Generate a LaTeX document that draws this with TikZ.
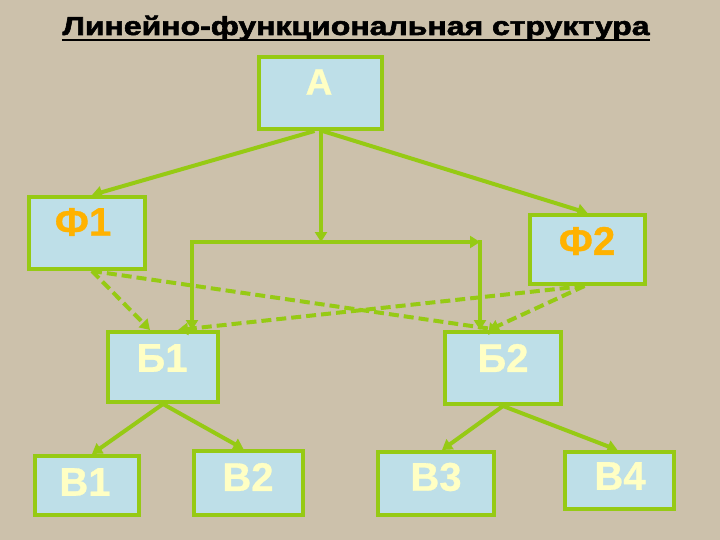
\documentclass[tikz,border=0pt]{standalone}
\usepackage{fontspec}
\setmainfont{Liberation Sans}
\newfontfamily\heavyfont[UprightFont={* Bold}, FakeBold=2]{Liberation Sans}
\newfontfamily\lblfont[UprightFont={* Bold}, FakeBold=0.8]{Liberation Sans}
\usetikzlibrary{arrows.meta}
\definecolor{bgc}{RGB}{204,193,171}
\definecolor{lgreen}{RGB}{150,202,20}
\definecolor{lblue}{RGB}{190,223,232}
\definecolor{lyel}{RGB}{255,255,196}
\definecolor{orng}{RGB}{255,178,0}
\begin{document}
\begin{tikzpicture}[x=1pt,y=-1pt,
  box/.style={draw=lgreen, fill=lblue, line width=4pt, inner sep=0pt, rectangle},
  lbl/.style={font=\lblfont\fontsize{40}{40}\selectfont, text=lyel, inner sep=0pt},
  flbl/.style={lbl, text=orng},
  conn/.style={draw=lgreen, line width=4pt, -{Triangle[length=10pt,width=12pt]}},
  dconn/.style={conn, dash pattern=on 10pt off 5pt}]
\useasboundingbox (0,0) rectangle (720,540);
\fill[bgc] (0,0) rectangle (720,540);

\node[anchor=base, inner sep=0pt] (title) at (356,35)
  {\scalebox{1.23}[1]{\heavyfont\fontsize{26}{26}\selectfont Линейно-функциональная структура}};
\draw[line width=2.5pt] ([yshift=-5pt]title.base west) -- ([yshift=-5pt]title.base east);

% boxes
\node[box, minimum width=123pt, minimum height=72pt] (A)  at (320.5,93) {};
\node[box, minimum width=116pt, minimum height=72pt] (F1) at (87,233) {};
\node[box, minimum width=115pt, minimum height=69pt] (F2) at (587.5,249.5) {};
\node[box, minimum width=110pt, minimum height=70pt] (B1) at (163,367) {};
\node[box, minimum width=116pt, minimum height=72pt] (B2) at (503,368) {};
\node[box, minimum width=104pt, minimum height=59pt] (V1) at (87,485.5) {};
\node[box, minimum width=109pt, minimum height=64pt] (V2) at (248.5,483) {};
\node[box, minimum width=116pt, minimum height=63pt] (V3) at (436,483.5) {};
\node[box, minimum width=109pt, minimum height=57pt] (V4) at (619.5,480.5) {};

% labels
\node[lbl, font=\lblfont\fontsize{37}{37}\selectfont] (tA) at (319,82) {А};
\node[flbl] (tF1) at (83,222) {Ф1};
\node[flbl] (tF2) at (587,241) {Ф2};
\node[lbl] (tB1) at (162,358) {Б1};
\node[lbl] (tB2) at (503,358) {Б2};
\node[lbl] (tV1) at (85,482) {В1};
\node[lbl] (tV2) at (248,477) {В2};
\node[lbl] (tV3) at (436,477) {В3};
\node[lbl] (tV4) at (620,476) {В4};

% junction coordinates
\coordinate (jM) at (321,242);
\coordinate (jL) at (192,242);
\coordinate (jR) at (480,242);

% solid connectors
\draw[conn] ([xshift=-6pt]A.south) -- ([xshift=5pt]F1.north);
\draw[conn] ([xshift=2pt]A.south) -- (F2.north);
\draw[conn] ([xshift=0.5pt]A.south) -- (jM);
\draw[conn, shorten <=-2pt] (jL) -- (jR);
\draw[conn, shorten <=-2pt] (jL) -- ([xshift=29pt]B1.north);
\draw[conn, shorten <=-2pt] (jR) -- ([xshift=-23pt]B2.north);

% dashed connectors
\draw[dconn] ([xshift=5pt]F1.south) -- ([xshift=-13pt]B1.north);
\draw[dconn] ([xshift=5pt]F1.south) -- ([xshift=-4pt]B2.north);
\draw[dconn] ([xshift=-3pt]F2.south) -- ([xshift=-14pt]B2.north);
\draw[dconn] ([xshift=-3pt]F2.south) -- ([xshift=15pt]B1.north);

% lower level
\draw[conn] (B1.south) -- ([xshift=5pt]V1.north);
\draw[conn] (B1.south) -- ([xshift=-5pt]V2.north);
\draw[conn] (B2.south) -- ([xshift=6pt]V3.north);
\draw[conn] (B2.south) -- ([xshift=-2pt]V4.north);
\end{tikzpicture}
\end{document}
